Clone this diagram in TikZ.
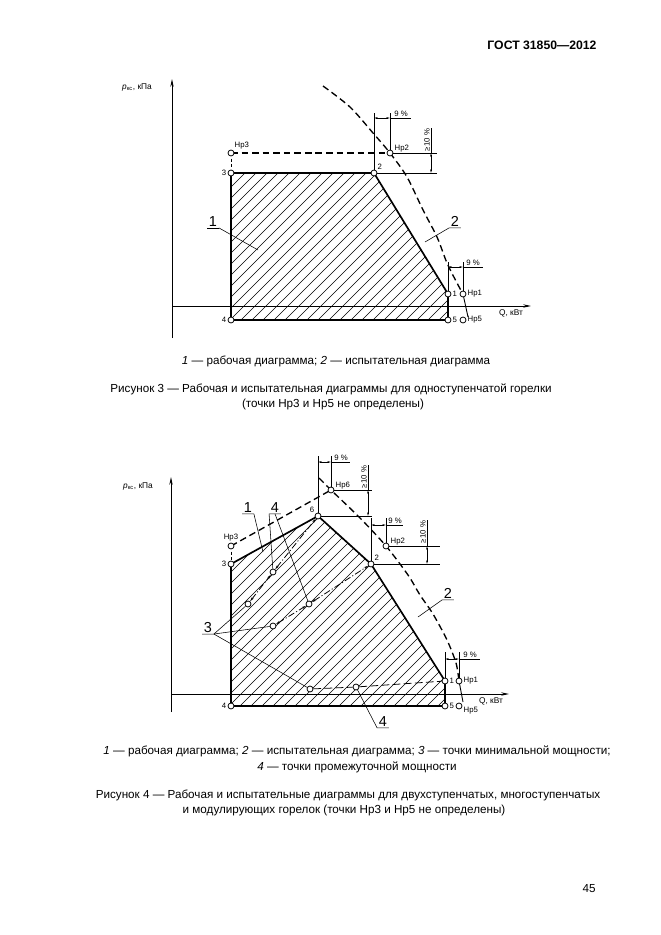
\documentclass[tikz,border=0pt]{standalone}
\usepackage{fontspec}
\setmainfont{Liberation Sans}
\usetikzlibrary{arrows.meta}

\tikzset{
  pnt/.style={circle, draw, fill=white, line width=0.7pt, inner sep=0pt, minimum size=5.4pt},
  work/.style={line width=1.5pt, line join=round},
  testline/.style={line width=1.2pt, dash pattern=on 6pt off 3.5pt},
  stageline/.style={line width=0.7pt, dash pattern=on 6pt off 2pt on 1pt off 2pt},
  stagearr/.style={stageline, {Stealth[length=4pt,width=2pt]}-{Stealth[length=4pt,width=2pt]}},
  axis/.style={line width=0.8pt, -{Stealth[length=7pt,width=3pt]}},
  dimline/.style={line width=0.5pt},
  dimarr/.style={line width=0.5pt, {Stealth[length=3.5pt,width=1.6pt]}-{Stealth[length=3.5pt,width=1.6pt]}},
  hatchline/.style={line width=0.5pt},
  leader/.style={line width=0.5pt},
  small/.style={font=\fontsize{7}{8}\selectfont, inner sep=1pt},
  big/.style={font=\fontsize{13}{14}\selectfont, inner sep=1.5pt},
  captext/.style={font=\fontsize{10.5}{12}\selectfont, inner sep=0pt}
}

\begin{document}
\begin{tikzpicture}[x=0.9pt, y=-0.9pt]
    \useasboundingbox (0,0) rectangle (661,935);
    % Header
    \node[font=\bfseries\fontsize{11}{13}\selectfont] (head) at (542,45) {ГОСТ 31850—2012};
    \node[captext] (pagenum) at (589,889) {45};

    %%%%% Figure 3
    % Coordinate
    \coordinate (f3y0) at (172,338);
    \coordinate (f3y1) at (172,79);
    \coordinate (f3x0) at (172,306);
    \coordinate (f3x1) at (531,306);
    \coordinate (f3p1) at (448,294);
    \coordinate (f3p2) at (374,173);
    \coordinate (f3p3) at (231,173);
    \coordinate (f3p4) at (231,320);
    \coordinate (f3p5) at (448,320);
    \coordinate (f3h1) at (463,294);
    \coordinate (f3h2) at (390,153);
    \coordinate (f3h3) at (231,153);
    \coordinate (f3h5) at (463,320);
    % Hatching
    \begin{scope}
      \clip (f3p4) -- (f3p3) -- (f3p2) -- (f3p1) -- (f3p5) -- cycle;
      \foreach \c in {396,407,...,780} \draw[hatchline] (\c-400,400) -- (\c-100,100);
    \end{scope}
    % Axes
    \draw[axis] (f3y0) -- (f3y1);
    \draw[axis] (f3x0) -- (f3x1);
    \node[small, font=\fontsize{7.5}{9}\selectfont] (f3ylab) at (137,87) {\textit{p}\textsubscript{кс}, кПа};
    \node[small, font=\fontsize{7.5}{9}\selectfont] (f3xlab) at (511,313) {Q, кВт};
    % Linee
    \draw[testline] (f3h3) -- (f3h2);
    \draw[testline, dash pattern=on 3pt off 2pt, line width=0.8pt] (f3h3) -- (f3p3);
    \draw[testline] plot[smooth] coordinates {(323,86) (350,107) (373,133) (390,153) (407,177) (423,210) (437,237) (447,263) (457,283) (463,294)};
    \draw[line width=0.8pt] (f3h1) -- (468,317);
    \draw[work] (f3p4) -- (f3p3) -- (f3p2) -- (f3p1) -- (f3p5) -- cycle;
    % Dimensions
    \draw[dimline] (f3p2) -- (374,113);
    \draw[dimline] (f3h2) -- (390,113);
    \draw[dimarr] (374,118) -- (390,118);
    \draw[dimline] (390,118) -- (411,118);
    \node[small, anchor=south] (f3d1) at (401,118) {9 \%};
    \draw[dimline] (f3h2) -- (437,153);
    \draw[dimline] (f3p2) -- (437,173);
    \draw[dimarr] (431,153) -- (431,173);
    \draw[dimline] (431,153) -- (431,128);
    \node[small, rotate=90, anchor=south] (f3d2) at (431,140) {≥10 \%};
    \draw[dimline] (f3p1) -- (448,262);
    \draw[dimline] (f3h1) -- (463,262);
    \draw[dimarr] (448,267) -- (463,267);
    \draw[dimline] (463,267) -- (483,267);
    \node[small, anchor=south] (f3d3) at (473,267) {9 \%};
    % Points
    \foreach \p in {f3p1,f3p2,f3p3,f3p4,f3p5,f3h1,f3h2,f3h3,f3h5}
      \node[pnt] (\p c) at (\p) {};
    \node[small, anchor=east] (f3t3) at (f3p3c.west) {3};
    \node[small, anchor=east] (f3t4) at (f3p4c.west) {4};
    \node[small, anchor=south west] (f3t2) at (f3p2c.north east) {2};
    \node[small, anchor=west] (f3t1) at (f3p1c.east) {1};
    \node[small, anchor=west] (f3t5) at (f3p5c.east) {5};
    \node[small, anchor=south west] (f3th3) at (f3h3c.north east) {Нр3};
    \node[small, anchor=south west] (f3th2) at (f3h2c.east) {Нр2};
    \node[small, anchor=west] (f3th1) at (f3h1c.east) {Нр1};
    \node[small, anchor=west] (f3th5) at (f3h5c.east) {Нр5};
    % Leaders
    \node[big, anchor=base] (f3l1) at (213,226) {1};
    \draw[leader] (f3l1.south east) -- (f3l1.south west);
    \draw[leader] (f3l1.south east) -- (258,250);
    \node[big, anchor=base] (f3l2) at (455,226) {2};
    \draw[leader] (f3l2.south east) -- (f3l2.south west) -- (425,242);
    % Captions
    \node[captext] (f3cap1) at (336,361) {\textit{1} — рабочая диаграмма; \textit{2} — испытательная диаграмма};
    \node[captext] (f3cap2) at (331,389) {Рисунок 3 — Рабочая и испытательная диаграммы для одноступенчатой горелки};
    \node[captext] (f3cap3) at (333,404) {(точки Нр3 и Нр5 не определены)};

    %%%%% Figure 4
    % Coordinate
    \coordinate (f4y0) at (171,712);
    \coordinate (f4y1) at (171,477);
    \coordinate (f4x0) at (171,694);
    \coordinate (f4x1) at (509,694);
    \coordinate (f4p1) at (445,681);
    \coordinate (f4p2) at (371,564);
    \coordinate (f4p3) at (231,564);
    \coordinate (f4p4) at (231,706);
    \coordinate (f4p5) at (445,706);
    \coordinate (f4p6) at (318,516);
    \coordinate (f4h1) at (459,681);
    \coordinate (f4h2) at (386,546);
    \coordinate (f4h3) at (231,546);
    \coordinate (f4h5) at (459,706);
    \coordinate (f4h6) at (331,490);
    \coordinate (f4m1) at (248,604);
    \coordinate (f4m2) at (273,626);
    \coordinate (f4m3) at (310,689);
    \coordinate (f4i1) at (273,572);
    \coordinate (f4i2) at (309,604);
    \coordinate (f4i3) at (356,687);
    % Hatching
    \begin{scope}
      \clip (f4p4) -- (f4p3) -- (f4p6) -- (f4p2) -- (f4p1) -- (f4p5) -- cycle;
      \foreach \c in {792,803,...,1160} \draw[hatchline] (\c-750,750) -- (\c-450,450);
    \end{scope}
    % Axes
    \draw[axis] (f4y0) -- (f4y1);
    \draw[axis] (f4x0) -- (f4x1);
    \node[small, font=\fontsize{7.5}{9}\selectfont] (f4ylab) at (138,486) {\textit{p}\textsubscript{кс}, кПа};
    \node[small, font=\fontsize{7.5}{9}\selectfont] (f4xlab) at (491,701) {Q, кВт};
    % Linee
    \draw[testline] (f4h3) -- (f4h6);
    \draw[testline, dash pattern=on 3pt off 2pt, line width=0.8pt] (f4h3) -- (f4p3);
    \draw[testline] plot[smooth] coordinates {(319,478) (331,490) (360,518) (386,546) (408,575) (420,595) (433,614) (447,640) (456,663) (459,681)};
    \draw[line width=0.8pt] (f4h1) -- (463,702);
    \draw[work] (f4p4) -- (f4p3) -- (f4p6) -- (f4p2) -- (f4p1) -- (f4p5) -- cycle;
    % Dimensions
    \draw[dimline] (f4p6) -- (318,456);
    \draw[dimline] (f4h6) -- (331,456);
    \draw[dimarr] (318,462) -- (331,462);
    \draw[dimline] (331,462) -- (350,462);
    \node[small, anchor=south] (f4d1) at (341,462) {9 \%};
    \draw[dimline] (f4h6) -- (372,490);
    \draw[dimline] (f4p6) -- (372,516);
    \draw[dimarr] (368,490) -- (368,516);
    \draw[dimline] (368,490) -- (368,465);
    \node[small, rotate=90, anchor=south] (f4d2) at (368,477) {≥10 \%};
    \draw[dimline] (f4p2) -- (371,518);
    \draw[dimline] (f4h2) -- (386,518);
    \draw[dimarr] (371,525) -- (386,525);
    \draw[dimline] (386,525) -- (403,525);
    \node[small, anchor=south] (f4d3) at (395,525) {9 \%};
    \draw[dimline] (f4h2) -- (440,546);
    \draw[dimline] (f4p2) -- (440,564);
    \draw[dimarr] (427,546) -- (427,564);
    \draw[dimline] (427,546) -- (427,520);
    \node[small, rotate=90, anchor=south] (f4d4) at (427,532) {≥10 \%};
    \draw[dimline] (f4p1) -- (445,652);
    \draw[dimline] (f4h1) -- (459,652);
    \draw[dimarr] (445,659) -- (459,659);
    \draw[dimline] (459,659) -- (480,659);
    \node[small, anchor=south] (f4d5) at (470,659) {9 \%};
    % Stage lines
    \foreach \p in {f4m1,f4m2,f4m3,f4i1,f4i2,f4i3}
      \node[pnt] (\p c) at (\p) {};
    \foreach \p in {f4p1,f4p2,f4p3,f4p4,f4p5,f4p6,f4h1,f4h2,f4h3,f4h5,f4h6}
      \node[pnt] (\p c) at (\p) {};
    \draw[stagearr] (f4m1c) -- (f4i1c);
    \draw[stagearr] (f4i1c) -- (f4p6c);
    \draw[stagearr] (f4m2c) -- (f4i2c);
    \draw[stagearr] (f4i2c) -- (f4p2c);
    \draw[line width=0.7pt, dash pattern=on 7pt off 3pt] (f4m3c) -- (f4i3c) -- (f4p1c);
    % Point labels
    \node[small, anchor=east] (f4t3) at (f4p3c.west) {3};
    \node[small, anchor=east] (f4t4) at (f4p4c.west) {4};
    \node[small, anchor=south east] (f4t6) at (f4p6c.north west) {6};
    \node[small, anchor=south west] (f4t2) at (f4p2c.north east) {2};
    \node[small, anchor=west] (f4t1) at (f4p1c.east) {1};
    \node[small, anchor=west] (f4t5) at (f4p5c.east) {5};
    \node[small, anchor=south] (f4th3) at (f4h3c.north) {Нр3};
    \node[small, anchor=south west] (f4th6) at (f4h6c.east) {Нр6};
    \node[small, anchor=south west] (f4th2) at (f4h2c.east) {Нр2};
    \node[small, anchor=west] (f4th1) at (f4h1c.east) {Нр1};
    \node[small, anchor=north west] (f4th5) at (f4h5c.east) {Нр5};
    % Leaders
    \node[big, anchor=base] (f4l1) at (248,512) {1};
    \draw[leader] (f4l1.south west) -- (f4l1.south east) -- (263,552);
    \node[big, anchor=base] (f4l4a) at (275,512) {4};
    \draw[leader] (f4l4a.south east) -- (f4l4a.south west) -- (f4i1c);
    \draw[leader] (f4l4a.south) -- (f4i2c);
    \node[big, anchor=base] (f4l3) at (208,632) {3};
    \draw[leader] (f4l3.south west) -- (f4l3.south east) -- (f4m1c);
    \draw[leader] (f4l3.south east) -- (f4m2c);
    \draw[leader] (f4l3.south east) -- (f4m3c);
    \node[big, anchor=base] (f4l2) at (448,598) {2};
    \draw[leader] (f4l2.south east) -- (f4l2.south west) -- (418,617);
    \node[big, anchor=base] (f4l4b) at (383,726) {4};
    \draw[leader] (f4l4b.south east) -- (f4l4b.south west) -- (f4i3c);
    % Captions
    \node[captext] (f4cap1) at (357,751) {\textit{1} — рабочая диаграмма; \textit{2} — испытательная диаграмма; \textit{3} — точки минимальной мощности;};
    \node[captext] (f4cap2) at (357,767) {\textit{4} — точки промежуточной мощности};
    \node[captext] (f4cap3) at (348,795) {Рисунок 4 — Рабочая и испытательные диаграммы для двухступенчатых, многоступенчатых};
    \node[captext] (f4cap4) at (344,810) {и модулирующих горелок (точки Нр3 и Нр5 не определены)};
\end{tikzpicture}
\end{document}
